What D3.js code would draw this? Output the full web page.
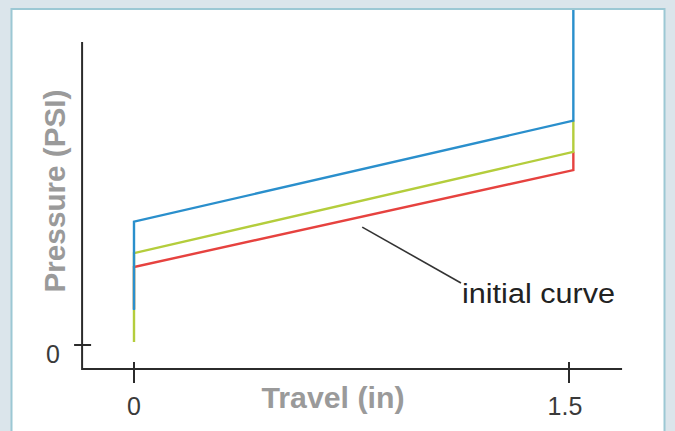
<!DOCTYPE html>
<html>
<head>
<meta charset="utf-8">
<script src="https://d3js.org/d3.v7.min.js"></script>
<style>
  html, body { margin: 0; padding: 0; background: #dbe5eb; }
  svg { display: block; }
</style>
</head>
<body>
<svg id="chart" width="675" height="431"></svg>
<script>
// ---- data ----
const seriesNames = ["red", "green", "blue"];
const travelPts = [0, 0, 1.515, 1.515];
const redPressure = [12, 26, 58.3, 64.4];
const greenPressure = [1, 30.6, 64.4, 74.8];
const bluePressure = [11.7, 41.1, 74.8, 111.7];
const xTickValues = [0, 1.5];
const xTickLabels = ["0", "1.5"];
const yTickValues = [0];
const yTickLabels = ["0"];
const xTitle = "Travel (in)";
const yTitle = "Pressure (PSI)";
const annotation = "initial curve";
const annotationPoint = [0.787, 39.3];

// ---- layout ----
const svg = d3.select("#chart");
const W = 675, H = 431;
const colors = { red: "#e6423f", green: "#b4cd3c", blue: "#2a8fcc" };
const FONT = "Liberation Sans, Arial, sans-serif";

// panel
svg.append("rect").attr("x", 0).attr("y", 0).attr("width", W).attr("height", H).attr("fill", "#dbe5eb");
svg.append("rect").attr("x", 11.5).attr("y", 9).attr("width", 653).attr("height", 430)
  .attr("fill", "#ffffff").attr("stroke", "#9cc8d4").attr("stroke-width", 2);

const x = d3.scaleLinear().domain([0, 1.5]).range([134, 569]);
const y = d3.scaleLinear().domain([0, 100]).range([345, 45]);

const axisColor = "#2b2b2b";
const g = svg.append("g");

// curves
const line = d3.line().x(d => x(d[0])).y(d => y(d[1]));
const data = {
  red: travelPts.map((t, i) => [t, redPressure[i]]),
  green: travelPts.map((t, i) => [t, greenPressure[i]]),
  blue: travelPts.map((t, i) => [t, bluePressure[i]])
};
seriesNames.forEach(name => {
  g.append("path").datum(data[name]).attr("d", line)
    .attr("fill", "none").attr("stroke", colors[name])
    .attr("stroke-width", 2.4).attr("stroke-linejoin", "miter");
});

// axes lines
const x0 = x(-0.179), x1 = x(1.683);
const yAxisBottom = y(-8), yAxisTop = y(101);
g.append("line").attr("x1", x0).attr("x2", x0).attr("y1", yAxisTop).attr("y2", yAxisBottom + 1)
  .attr("stroke", axisColor).attr("stroke-width", 2);
g.append("line").attr("x1", x0).attr("x2", x1).attr("y1", yAxisBottom).attr("y2", yAxisBottom)
  .attr("stroke", axisColor).attr("stroke-width", 2);

// x ticks
xTickValues.forEach((v, i) => {
  g.append("line").attr("x1", x(v)).attr("x2", x(v)).attr("y1", yAxisBottom - 7).attr("y2", yAxisBottom + 14)
    .attr("stroke", axisColor).attr("stroke-width", 2);
  g.append("text").attr("x", x(v) + (i === 1 ? -4 : 0)).attr("y", 415).attr("text-anchor", "middle")
    .attr("font-family", FONT).attr("font-size", 25)
    .attr("fill", "#3a3a3a").text(xTickLabels[i]);
});

// y ticks
yTickValues.forEach((v, i) => {
  g.append("line").attr("x1", x0 - 8).attr("x2", x0 + 9).attr("y1", y(v)).attr("y2", y(v))
    .attr("stroke", axisColor).attr("stroke-width", 2);
  g.append("text").attr("x", 53).attr("y", y(v) + 18).attr("text-anchor", "middle")
    .attr("font-family", FONT).attr("font-size", 25)
    .attr("fill", "#3a3a3a").text(yTickLabels[i]);
});

// titles
g.append("text").attr("x", 333).attr("y", 408).attr("text-anchor", "middle")
  .attr("font-family", FONT).attr("font-size", 29)
  .attr("textLength", 143).attr("lengthAdjust", "spacingAndGlyphs")
  .attr("font-weight", "bold").attr("fill", "#9a9a9a").text(xTitle);
g.append("text").attr("transform", "translate(65,191) rotate(-90)").attr("text-anchor", "middle")
  .attr("font-family", FONT).attr("font-size", 29)
  .attr("textLength", 203).attr("lengthAdjust", "spacingAndGlyphs")
  .attr("font-weight", "bold").attr("fill", "#9a9a9a").text(yTitle);

// annotation
g.append("line").attr("x1", x(annotationPoint[0])).attr("y1", y(annotationPoint[1]))
  .attr("x2", 461).attr("y2", 283).attr("stroke", "#333").attr("stroke-width", 1.6);
g.append("text").attr("x", 462).attr("y", 303)
  .attr("font-family", FONT).attr("font-size", 27)
  .attr("textLength", 153).attr("lengthAdjust", "spacingAndGlyphs")
  .attr("fill", "#222").text(annotation);
</script>
</body>
</html>
